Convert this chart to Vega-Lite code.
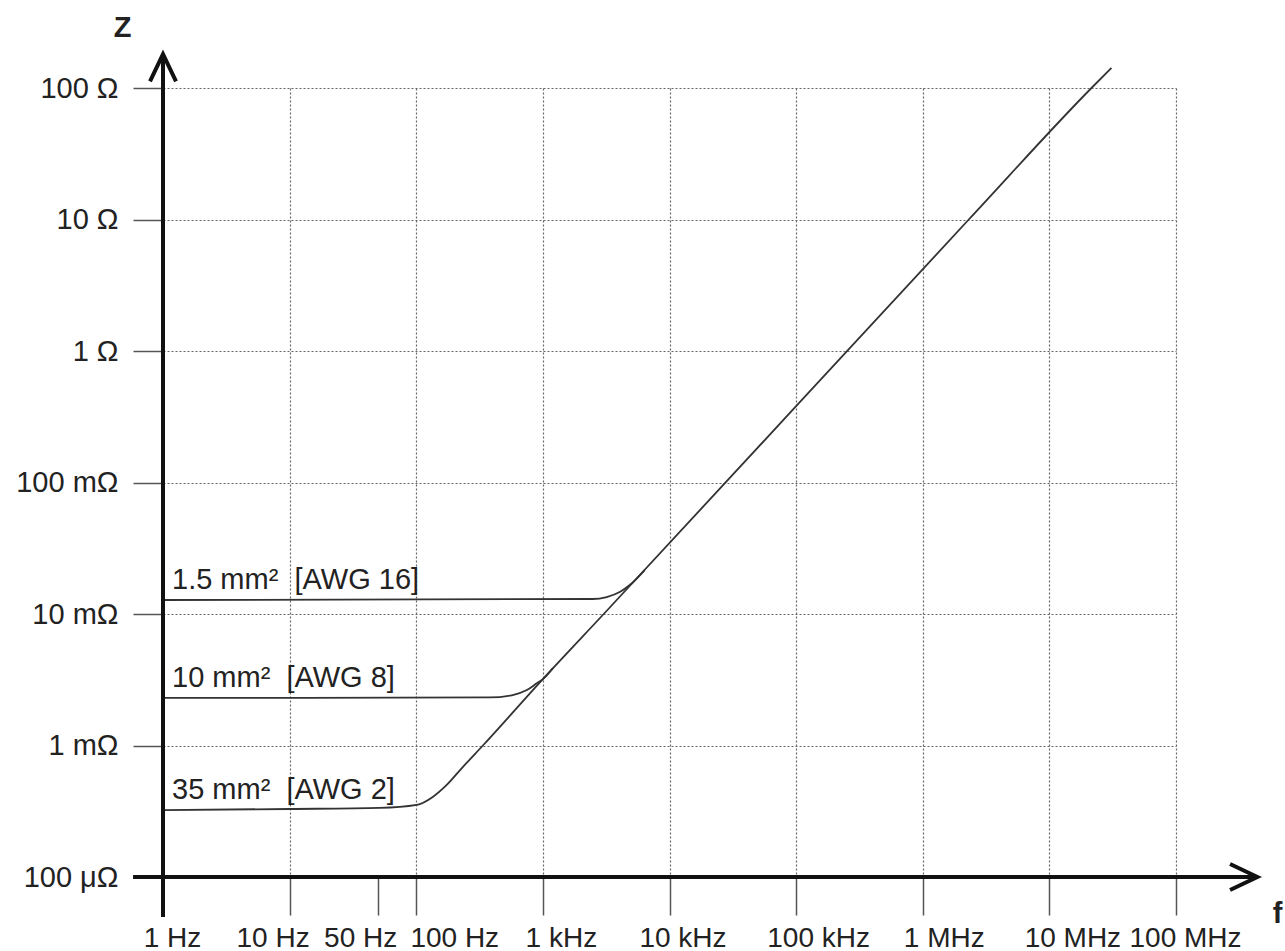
{
  "$schema": "https://vega.github.io/schema/vega-lite/v6.json",
  "width": 1013,
  "height": 789,
  "autosize": {"type": "none"},
  "padding": {"left": 163, "top": 88, "right": 109, "bottom": 74},
  "background": "white",
  "config": {"view": {"stroke": null}},
  "datasets": {
    "curves": [
      {"series": "35", "f": 1, "Z": 0.000323},
      {"series": "35", "f": 10, "Z": 0.000329},
      {"series": "35", "f": 51.6, "Z": 0.000335},
      {"series": "35", "f": 101, "Z": 0.000353},
      {"series": "35", "f": 135, "Z": 0.000406},
      {"series": "35", "f": 174, "Z": 0.000501},
      {"series": "35", "f": 233, "Z": 0.000686},
      {"series": "35", "f": 336, "Z": 0.001},
      {"series": "35", "f": 1000, "Z": 0.0032},
      {"series": "35", "f": 3025, "Z": 0.01},
      {"series": "35", "f": 2310000, "Z": 10},
      {"series": "35", "f": 21500000, "Z": 100},
      {"series": "35", "f": 30900000, "Z": 142},
      {"series": "10", "f": 1, "Z": 0.0023},
      {"series": "10", "f": 381, "Z": 0.00232},
      {"series": "10", "f": 578, "Z": 0.00242},
      {"series": "10", "f": 747, "Z": 0.00264},
      {"series": "10", "f": 895, "Z": 0.00297},
      {"series": "10", "f": 1000, "Z": 0.0032},
      {"series": "10", "f": 1200, "Z": 0.00388},
      {"series": "1.5", "f": 1, "Z": 0.01278},
      {"series": "1.5", "f": 2477, "Z": 0.0130},
      {"series": "1.5", "f": 3192, "Z": 0.01346},
      {"series": "1.5", "f": 4045, "Z": 0.01469},
      {"series": "1.5", "f": 4853, "Z": 0.0166},
      {"series": "1.5", "f": 6370, "Z": 0.0216}
    ],
    "labels": [
      {"f": 1, "Z": 0.01278, "label": "1.5 mm²\u00a0 [AWG 16]"},
      {"f": 1, "Z": 0.0023, "label": "10 mm²\u00a0 [AWG 8]"},
      {"f": 1, "Z": 0.000323, "label": "35 mm²\u00a0 [AWG 2]"}
    ],
    "axislines": [
      {"f": 1, "f2": 1, "Z": 0.0000497, "Z2": 175},
      {"f": 0.58, "f2": 439000000, "Z": 0.0001, "Z2": 0.0001}
    ],
    "uparrow": [{"f": 1, "Z": 181}],
    "rightarrow": [{"f": 439000000, "Z": 0.0001}]
  },
  "encoding": {
    "x": {
      "field": "f",
      "type": "quantitative",
      "scale": {"type": "log", "domain": [1, 100000000], "nice": false, "zero": false},
      "axis": {
        "title": "f",
        "titleX": 1114,
        "titleY": 45,
        "titleAlign": "center",
        "titleBaseline": "alphabetic",
        "titleFont": "Liberation Sans",
        "titleFontSize": 29,
        "titleFontWeight": "bold",
        "titleColor": "#222",
        "values": [1, 10, 50, 100, 1000, 10000, 100000, 1000000, 10000000, 100000000],
        "labelExpr": "datum.value < 5 ? '1 Hz' : datum.value < 20 ? '10 Hz' : datum.value < 70 ? '50 Hz' : datum.value < 500 ? '100 Hz' : datum.value < 5000 ? '1 kHz' : datum.value < 50000 ? '10 kHz' : datum.value < 500000 ? '100 kHz' : datum.value < 5000000 ? '1 MHz' : datum.value < 50000000 ? '10 MHz' : '100 MHz'",
        "labelFont": "Liberation Sans",
        "labelFontSize": 28,
        "labelColor": "#222",
        "labelPadding": 9,
        "labelFlush": false,
        "labelOverlap": false,
        "labelBound": false,
        "labelOffset": {"expr": "datum.value < 5 ? 9 : datum.value < 20 ? -17 : datum.value < 70 ? -18 : datum.value < 500 ? 38 : datum.value < 5000 ? 18 : datum.value < 50000 ? 13 : datum.value < 500000 ? 22 : datum.value < 5000000 ? 21 : datum.value < 50000000 ? 23 : 9"},
        "domain": false,
        "ticks": true,
        "tickSize": 38,
        "tickColor": "#555",
        "tickWidth": 1.5,
        "grid": true,
        "gridColor": "#666",
        "gridDash": [2, 2],
        "gridWidth": 1.2,
        "gridOpacity": {"condition": {"test": "datum.value > 20 && datum.value < 70", "value": 0}, "value": 1}
      }
    },
    "y": {
      "field": "Z",
      "type": "quantitative",
      "scale": {"type": "log", "domain": [0.0001, 100], "nice": false, "zero": false},
      "axis": {
        "title": "Z",
        "titleAngle": 0,
        "titleX": -41,
        "titleY": -52,
        "titleAlign": "center",
        "titleBaseline": "alphabetic",
        "titleFont": "Liberation Sans",
        "titleFontSize": 29,
        "titleFontWeight": "bold",
        "titleColor": "#222",
        "values": [0.0001, 0.001, 0.01, 0.1, 1, 10, 100],
        "labelExpr": "datum.value < 0.0005 ? '100 μΩ' : datum.value < 0.005 ? '1 mΩ' : datum.value < 0.05 ? '10 mΩ' : datum.value < 0.5 ? '100 mΩ' : datum.value < 5 ? '1 Ω' : datum.value < 50 ? '10 Ω' : '100 Ω'",
        "labelFont": "Liberation Sans",
        "labelFontSize": 29,
        "labelColor": "#222",
        "labelPadding": 15,
        "labelBaseline": "middle",
        "labelFlush": false,
        "labelOverlap": false,
        "labelBound": false,
        "domain": false,
        "ticks": true,
        "tickSize": 30,
        "tickColor": "#555",
        "tickWidth": 1.5,
        "grid": true,
        "gridColor": "#666",
        "gridDash": [2, 2],
        "gridWidth": 1.2
      }
    }
  },
  "layer": [
    {
      "data": {"name": "curves"},
      "mark": {"type": "line", "color": "#333", "strokeWidth": 1.8, "interpolate": "monotone", "clip": false},
      "encoding": {"detail": {"field": "series", "type": "nominal"}}
    },
    {
      "data": {"name": "axislines"},
      "mark": {"type": "rule", "color": "#111", "strokeWidth": 4, "strokeCap": "butt"},
      "encoding": {
        "x2": {"field": "f2"},
        "y2": {"field": "Z2"}
      }
    },
    {
      "data": {"name": "uparrow"},
      "mark": {"type": "point", "shape": "M -1 2.1 L 0 0 L 1 2.1", "size": 676, "filled": false, "stroke": "#111", "strokeWidth": 4, "strokeJoin": "miter", "opacity": 1}
    },
    {
      "data": {"name": "rightarrow"},
      "mark": {"type": "point", "shape": "M -2.1 -1 L 0 0 L -2.1 1", "size": 676, "filled": false, "stroke": "#111", "strokeWidth": 4, "strokeJoin": "miter", "opacity": 1}
    },
    {
      "data": {"name": "labels"},
      "mark": {"type": "text", "align": "left", "baseline": "alphabetic", "dx": 9, "dy": -11, "font": "Liberation Sans", "fontSize": 29, "color": "#222"},
      "encoding": {"text": {"field": "label", "type": "nominal"}}
    }
  ]
}
